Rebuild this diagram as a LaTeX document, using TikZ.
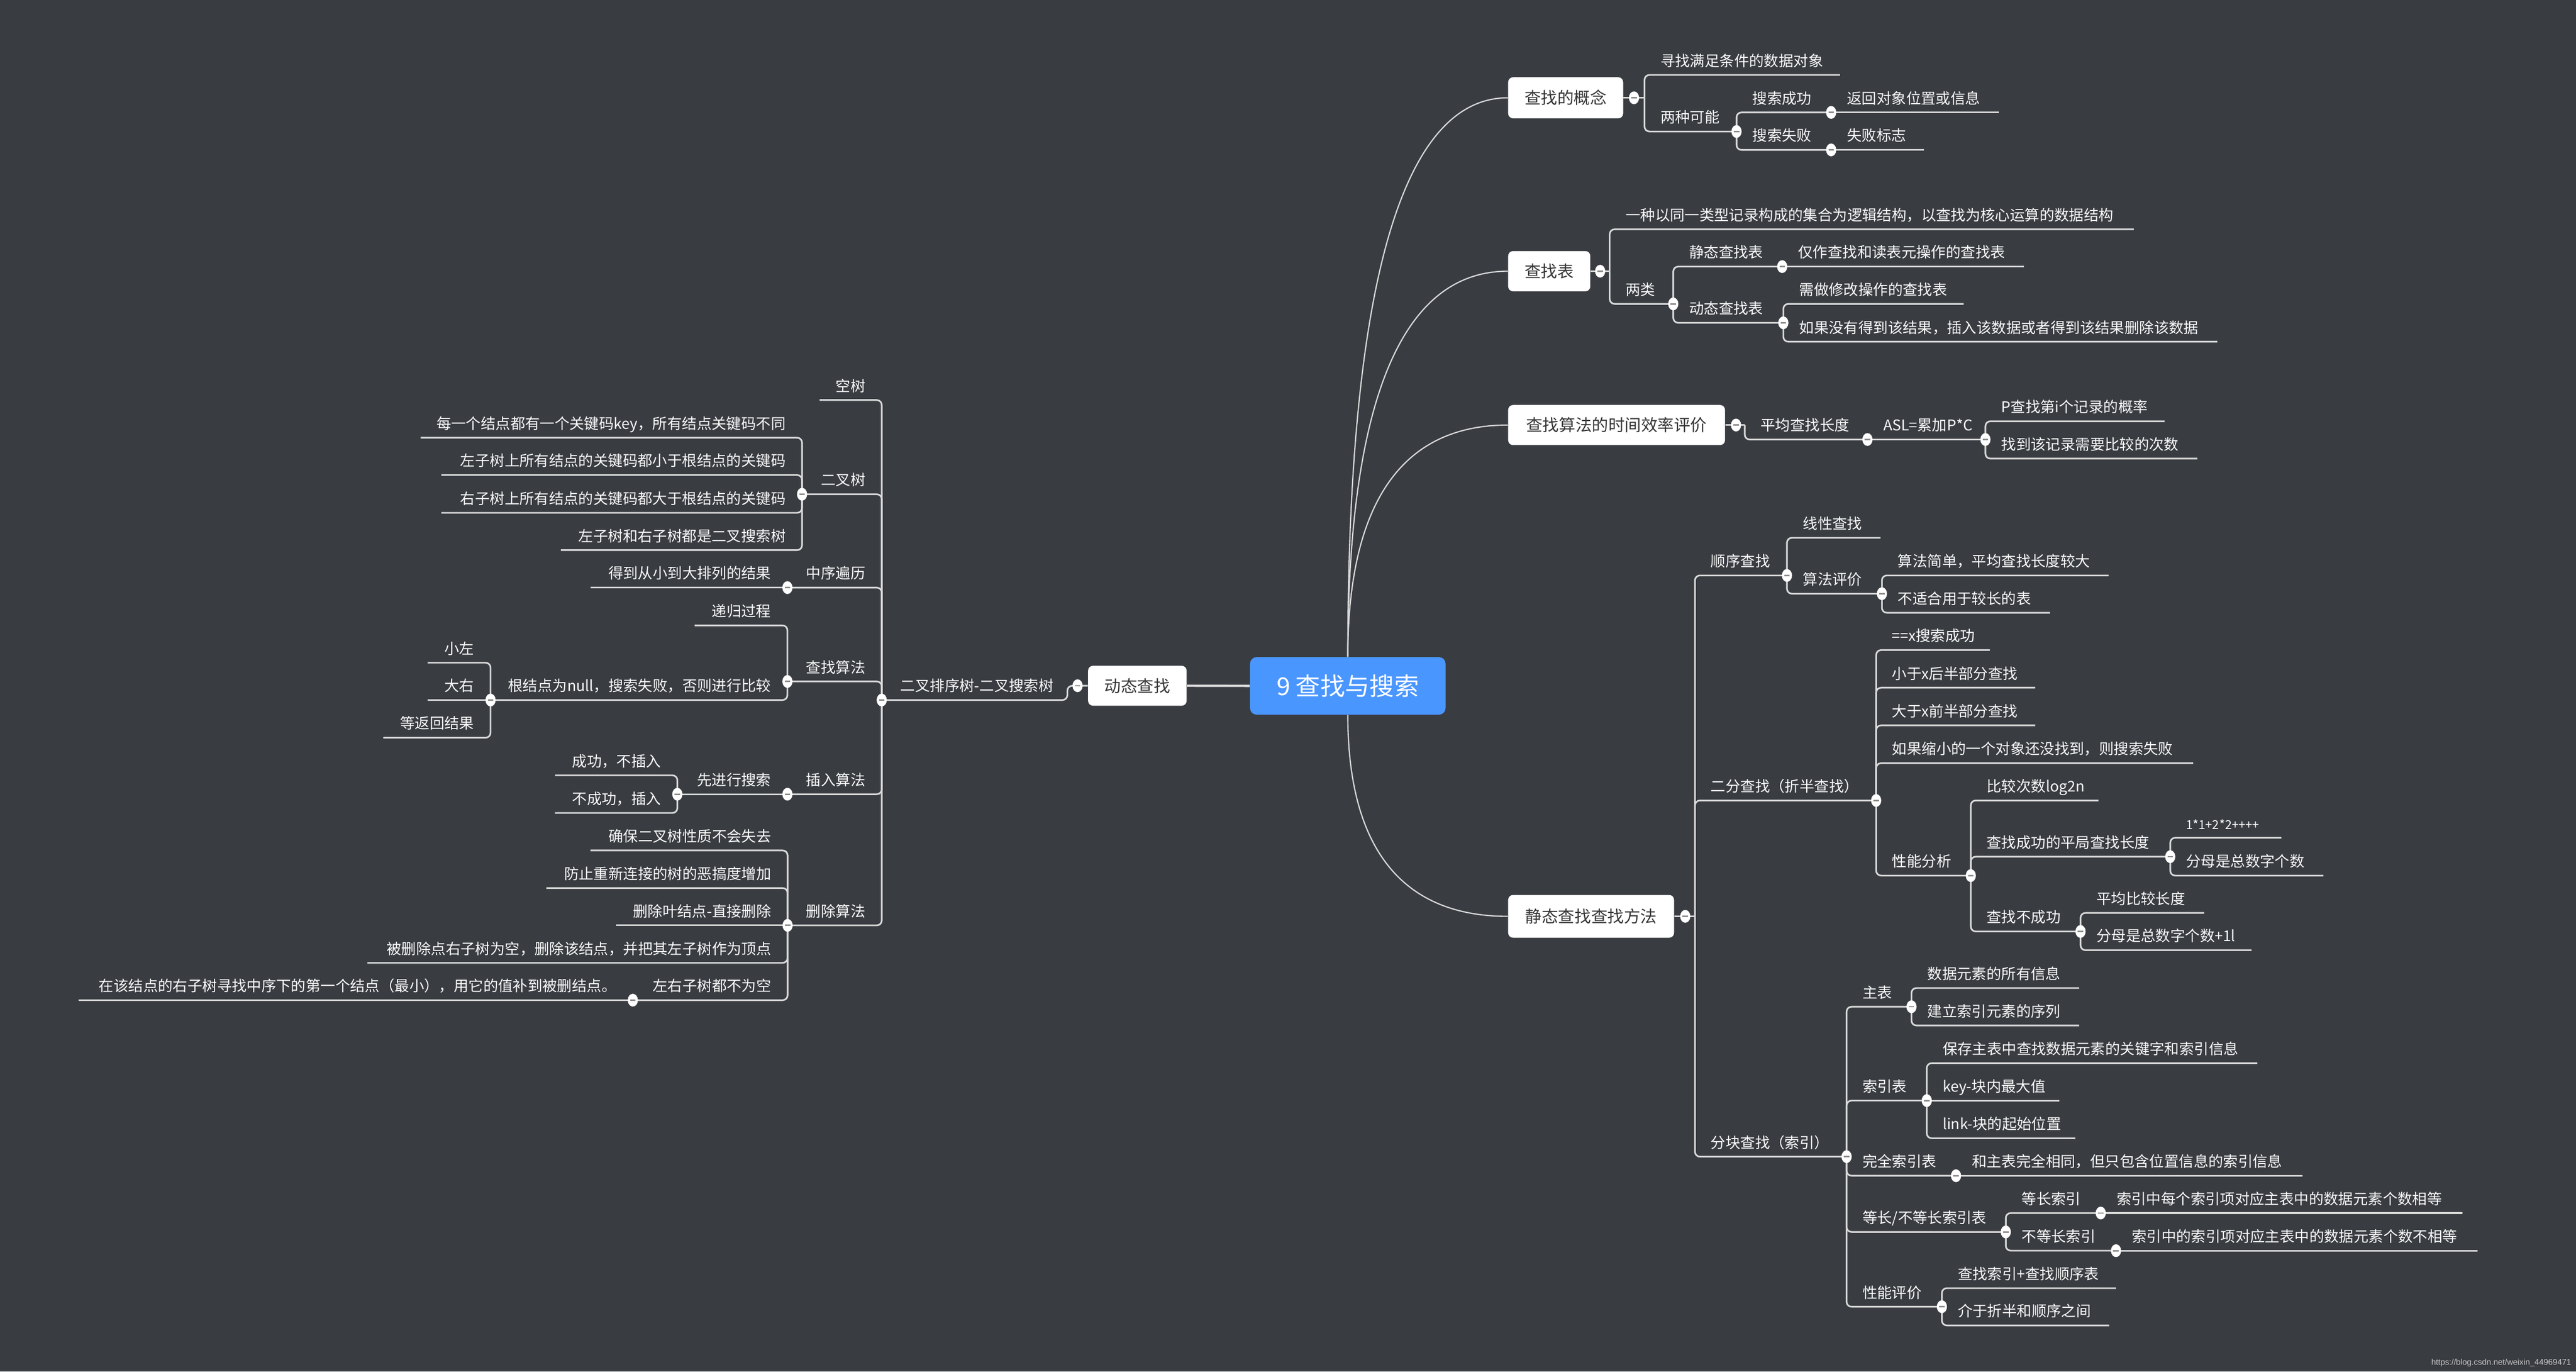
\documentclass[tikz,border=0pt]{standalone}
\usepackage{fontspec}
\setmainfont{Noto Sans CJK SC}
\newfontfamily\wmfont{Liberation Sans}
\usetikzlibrary{shapes.geometric}
\definecolor{bgc}{HTML}{393C41}
\definecolor{lnc}{HTML}{D9D9D9}
\definecolor{txc}{HTML}{FAFAFA}
\definecolor{boxtx}{HTML}{363636}
\definecolor{rootc}{HTML}{4A96FF}
\definecolor{btnm}{HTML}{8C8C8C}
\definecolor{wmc}{HTML}{C8C8C8}
\pgfdeclarelayer{bglayer}
\pgfdeclarelayer{lines}
\pgfsetlayers{bglayer,lines,main}
\tikzset{
 conn/.style={draw=lnc, line width=1pt, rounded corners=3pt},
 curv/.style={draw=lnc, line width=0.75pt},
 lblR/.style={anchor=base west, inner sep=0pt, text=txc, font=\fontsize{9}{10}\selectfont},
 lblL/.style={anchor=base east, inner sep=0pt, text=txc, font=\fontsize{9}{10}\selectfont},
 mbox/.style={fill=white, rounded corners=3pt, inner sep=0pt, text=boxtx, font=\fontsize{10}{12}\selectfont},
 btn/.style={ellipse, fill=white, minimum width=6.2pt, minimum height=7.8pt, inner sep=0pt,
   path picture={\draw[btnm, line width=0.9pt] ([xshift=-1.7pt]path picture bounding box.center) -- ([xshift=1.7pt]path picture bounding box.center);}},
}
% right branch with elbow
\newcommand\Rb[5]{%
  \coordinate (#1-e) at (#3,#4);
  \begin{pgfonlayer}{lines}\draw[conn] (#2) |- (#1-e);\end{pgfonlayer}
  \path (#2 |- #1-e) ++(9.5,-5.3) node[lblR] (#1) {#5};}
% right branch straight
\newcommand\Rs[5]{%
  \coordinate (#1-e) at (#3,#4);
  \begin{pgfonlayer}{lines}\draw[conn] (#2) -- (#1-e);\end{pgfonlayer}
  \path (#2 |- #1-e) ++(9.5,-5.3) node[lblR] (#1) {#5};}
% left branch with elbow
\newcommand\Lb[5]{%
  \coordinate (#1-e) at (#3,#4);
  \begin{pgfonlayer}{lines}\draw[conn] (#2) |- (#1-e);\end{pgfonlayer}
  \path (#2 |- #1-e) ++(-9.8,-5.3) node[lblL] (#1) {#5};}
% left branch straight
\newcommand\Ls[5]{%
  \coordinate (#1-e) at (#3,#4);
  \begin{pgfonlayer}{lines}\draw[conn] (#2) -- (#1-e);\end{pgfonlayer}
  \path (#2 |- #1-e) ++(-9.8,-5.3) node[lblL] (#1) {#5};}
\newcommand\Bt[1]{\node[btn] (#1-b) at (#1-e) {};}
\begin{document}
\begin{tikzpicture}[x=1pt,y=-1pt]
\useasboundingbox (0,0) rectangle (1568,834.5);
\begin{pgfonlayer}{bglayer}
\fill[bgc] (0,0) rectangle (1568,834.5);
\end{pgfonlayer}

% root and main boxes
\node[fill=rootc, rounded corners=4pt, minimum width=119pt, minimum height=35pt, inner sep=0pt, text=white, font=\fontsize{15}{18}\selectfont] (root) at (820.4,417.3) {9 查找与搜索};
\node[mbox, minimum width=70pt, minimum height=25pt] (A) at (953,59.5) {查找的概念};
\node[mbox, minimum width=50pt, minimum height=24.5pt] (B) at (943,165) {查找表};
\node[mbox, minimum width=132pt, minimum height=24.4pt] (C) at (984,258.6) {查找算法的时间效率评价};
\node[mbox, minimum width=101pt, minimum height=26pt] (D) at (968.5,557.5) {静态查找查找方法};
\node[mbox, minimum width=60pt, minimum height=24.3pt] (E) at (692.3,417.2) {动态查找};

\begin{pgfonlayer}{lines}
\draw[curv] (root.north) .. controls (820.4,178.6) and (852,59.5) .. (A.west);
\draw[curv] (root.north) .. controls (820.4,247.1) and (852,165) .. (B.west);
\draw[curv] (root.north) .. controls (820.4,308) and (852,258.6) .. (C.west);
\draw[curv] (root.south) .. controls (820.4,514.3) and (852,557.5) .. (D.west);
\draw[draw=lnc, line width=1.4pt] (root.west) -- (E.east);
\end{pgfonlayer}

% junctions of the boxes
\coordinate (A-j) at (1001,59.5);
\coordinate (B-j) at (979.8,165);
\coordinate (C-j) at (1062,258.6);
\coordinate (D-j) at (1031.7,557.5);
\coordinate (E-j) at (649.7,417.2);
\coordinate (T-e) at (536.7,425.9);
\begin{pgfonlayer}{lines}
\draw[conn] (A.east) -- (A-j);
\draw[conn] (B.east) -- (B-j);
\draw[conn] (C.east) -- (C-j);
\draw[conn] (D.east) -- (D-j);
\draw[conn] (E.west) -- (E-j) |- (T-e);
\end{pgfonlayer}
\node[btn] (A-b) at (994.6,59.5) {};
\node[btn] (B-b) at (974,165) {};
\node[btn] (C-b) at (1056.7,258.6) {};
\node[btn] (D-b) at (1025.8,557.5) {};
\node[btn] (E-b) at (655.9,417.2) {};

% A
\Rb{A1}{A-j}{1120}{45.6}{寻找满足条件的数据对象}
\Rb{A2}{A-j}{1057}{80}{两种可能}
\Rb{A21}{A2-e}{1114.6}{68.4}{搜索成功}
\Rb{A22}{A2-e}{1114.6}{91.2}{搜索失败}
\Rs{A211}{A21-e}{1216.6}{68.4}{返回对象位置或信息}
\Rs{A221}{A22-e}{1171}{91.2}{失败标志}
\Bt{A2}\Bt{A21}\Bt{A22}

% B
\Rb{B1}{B-j}{1298.8}{139.5}{一种以同一类型记录构成的集合为逻辑结构，以查找为核心运算的数据结构}
\Rb{B2}{B-j}{1018.5}{184.9}{两类}
\Rb{B21}{B2-e}{1084.8}{162.2}{静态查找表}
\Rb{B22}{B2-e}{1085.5}{196.4}{动态查找表}
\Rs{B211}{B21-e}{1232}{162.2}{仅作查找和读表元操作的查找表}
\Rb{B221}{B22-e}{1195.3}{184.9}{需做修改操作的查找表}
\Rb{B222}{B22-e}{1349.7}{207.9}{如果没有得到该结果，插入该数据或者得到该结果删除该数据}
\Bt{B2}\Bt{B21}\Bt{B22}

% C
\Rb{C1}{C-j}{1136.7}{267.4}{平均查找长度}
\Rs{C2}{C1-e}{1208.5}{267.4}{ASL=累加P*C}
\Rb{C21}{C2-e}{1317.6}{256.3}{P查找第i个记录的概率}
\Rb{C22}{C2-e}{1337.5}{279}{找到该记录需要比较的次数}
\Bt{C1}\Bt{C2}

% D
\Rb{D1}{D-j}{1087.7}{350.1}{顺序查找}
\Rb{D11}{D1-e}{1144.6}{327.2}{线性查找}
\Rb{D12}{D1-e}{1145.5}{361.2}{算法评价}
\Rb{D121}{D12-e}{1283.5}{350.1}{算法简单，平均查找长度较大}
\Rb{D122}{D12-e}{1247.8}{372.8}{不适合用于较长的表}
\Rb{D2}{D-j}{1142}{487}{二分查找（折半查找）}
\Rb{D21}{D2-e}{1211.2}{395.5}{==x搜索成功}
\Rb{D22}{D2-e}{1238.8}{418.4}{小于x后半部分查找}
\Rb{D23}{D2-e}{1238.8}{441.3}{大于x前半部分查找}
\Rb{D24}{D2-e}{1334.9}{464.3}{如果缩小的一个对象还没找到，则搜索失败}
\Rb{D25}{D2-e}{1199.6}{532.7}{性能分析}
\Rb{D251}{D25-e}{1277.3}{487}{比较次数log2n}
\Rb{D252}{D25-e}{1321}{521.2}{查找成功的平局查找长度}
\Rb{D2521}{D252-e}{1388.7}{509.7}{\fontsize{7.5}{8}\selectfont 1*1+2*2++++}
\Rb{D2522}{D252-e}{1414.2}{532.7}{分母是总数字个数}
\Rb{D253}{D25-e}{1266.4}{566.7}{查找不成功}
\Rb{D2531}{D253-e}{1341.7}{555.4}{平均比较长度}
\Rb{D2532}{D253-e}{1370.5}{578.1}{分母是总数字个数+1l}
\Rb{D3}{D-j}{1124}{703.7}{分块查找（索引）}
\Rb{D31}{D3-e}{1163.5}{612.5}{主表}
\Rb{D311}{D31-e}{1265.6}{601.1}{数据元素的所有信息}
\Rb{D312}{D31-e}{1265.6}{623.9}{建立索引元素的序列}
\Rb{D32}{D3-e}{1172.8}{669.6}{索引表}
\Rb{D321}{D32-e}{1374}{646.8}{保存主表中查找数据元素的关键字和索引信息}
\Rs{D322}{D32-e}{1253.6}{669.6}{key-块内最大值}
\Rb{D323}{D32-e}{1263.2}{692.5}{link-块的起始位置}
\Rb{D33}{D3-e}{1190.6}{715.3}{完全索引表}
\Rs{D331}{D33-e}{1401.5}{715.3}{和主表完全相同，但只包含位置信息的索引信息}
\Rb{D34}{D3-e}{1220.9}{749.5}{等长/不等长索引表}
\Rb{D341}{D34-e}{1278.7}{738}{等长索引}
\Rs{D3411}{D341-e}{1498.8}{738}{索引中每个索引项对应主表中的数据元素个数相等}
\Rb{D342}{D34-e}{1288}{760.9}{不等长索引}
\Rs{D3421}{D342-e}{1508}{760.9}{索引中的索引项对应主表中的数据元素个数不相等}
\Rb{D35}{D3-e}{1182}{795}{性能评价}
\Rb{D351}{D35-e}{1288}{783.7}{查找索引+查找顺序表}
\Rb{D352}{D35-e}{1283.8}{806.4}{介于折半和顺序之间}
\Bt{D1}\Bt{D12}\Bt{D2}\Bt{D25}\Bt{D252}\Bt{D253}\Bt{D3}\Bt{D31}\Bt{D32}\Bt{D33}\Bt{D34}\Bt{D341}\Bt{D342}\Bt{D35}

% Left side
\node[lblL] (T) at (641.4,420.6) {二叉排序树-二叉搜索树};
\Lb{T1}{T-e}{498.9}{243.4}{空树}
\Lb{T2}{T-e}{488.2}{300.7}{二叉树}
\Lb{T21}{T2-e}{256}{266.3}{每一个结点都有一个关键码key，所有结点关键码不同}
\Lb{T22}{T2-e}{268.6}{289}{左子树上所有结点的关键码都小于根结点的关键码}
\Lb{T23}{T2-e}{268.6}{312}{右子树上所有结点的关键码都大于根结点的关键码}
\Lb{T24}{T2-e}{341.4}{334.7}{左子树和右子树都是二叉搜索树}
\Lb{T3}{T-e}{479.3}{357.5}{中序遍历}
\Ls{T31}{T3-e}{359.4}{357.5}{得到从小到大排列的结果}
\Lb{T4}{T-e}{479.3}{414.6}{查找算法}
\Lb{T41}{T4-e}{422.8}{380.5}{递归过程}
\Lb{T42}{T4-e}{298.6}{425.9}{根结点为null，搜索失败，否则进行比较}
\Lb{T421}{T42-e}{260.3}{403.2}{小左}
\Ls{T422}{T42-e}{260.3}{425.9}{大右}
\Lb{T423}{T42-e}{233.3}{448.8}{等返回结果}
\Lb{T5}{T-e}{479.3}{483.2}{插入算法}
\Ls{T51}{T5-e}{412.3}{483.2}{先进行搜索}
\Lb{T511}{T51-e}{337.9}{471.7}{成功，不插入}
\Lb{T512}{T51-e}{337.8}{494.6}{不成功，插入}
\Lb{T6}{T-e}{479.4}{563}{删除算法}
\Lb{T61}{T6-e}{359.4}{517.4}{确保二叉树性质不会失去}
\Lb{T62}{T6-e}{332.6}{540.3}{防止重新连接的树的恶搞度增加}
\Ls{T63}{T6-e}{374.9}{563}{删除叶结点-直接删除}
\Lb{T64}{T6-e}{223.6}{585.8}{被删除点右子树为空，删除该结点，并把其左子树作为顶点}
\Lb{T65}{T6-e}{385.2}{608.5}{左右子树都不为空}
\Ls{T651}{T65-e}{47.9}{608.5}{在该结点的右子树寻找中序下的第一个结点（最小），用它的值补到被删结点。}
\Bt{T}\Bt{T2}\Bt{T3}\Bt{T4}\Bt{T42}\Bt{T5}\Bt{T51}\Bt{T6}\Bt{T65}

% watermark
\node[anchor=base east, inner sep=0pt, text=wmc, font=\wmfont\fontsize{5}{6}\selectfont] (wm) at (1565.2,830.3) {https://blog.csdn.net/weixin\_44969471};
\end{tikzpicture}
\end{document}
